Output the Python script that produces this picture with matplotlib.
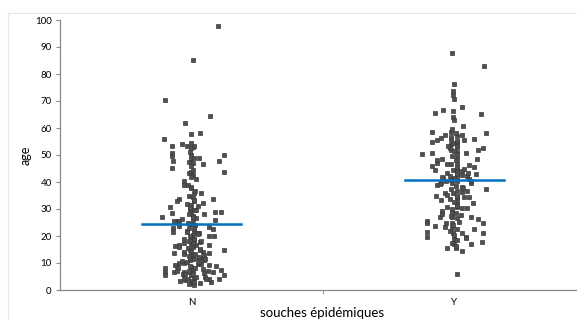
import matplotlib
matplotlib.use("Agg")
import matplotlib.pyplot as plt
import numpy as np

categories = ["N", "Y"]
x_label = "souches épidémiques"
y_label = "age"
y_ticks = list(range(0, 101, 10))
mean_values = [24.4, 40.8]

# jitter offsets (in category widths) and ages
n_offsets = [0.099, 0.004, -0.099, 0.072, -0.023, 0.0, 0.034, -0.106, -0.076, -0.038, -0.019, 0.0, 0.004,
             0.0, -0.076, -0.076, 0.122, 0.0, 0.0, 0.004, 0.0, 0.030, -0.072, 0.042, 0.103, -0.076, -0.011,
             0.0, 0.004, 0.0, 0.122, -0.027, -0.030, 0.0, 0.038, 0.008, 0.004, 0.008, -0.046, -0.057, 0.080,
             0.042, -0.080, 0.0, -0.004, 0.0, 0.004, -0.076, 0.046, 0.091, 0.114, -0.114, 0.091, -0.065,
             -0.053, -0.046, 0.004, -0.072, -0.072, -0.019, 0.068, 0.080, 0.008, 0.004, 0.0, 0.008, 0.030,
             0.084, -0.061, -0.049, -0.027, 0.0, 0.004, -0.004, 0.034, 0.068, 0.122, -0.065, -0.030, 0.042,
             0.065, 0.027, 0.049, 0.0, 0.004, -0.004, -0.046, -0.057, -0.027, 0.068, 0.095, -0.099, -0.099,
             -0.099, -0.068, -0.027, 0.0, 0.004, -0.004, 0.0, 0.008, 0.0, 0.004, 0.046, 0.080, 0.114, 0.122,
             0.106, 0.068, 0.034, -0.023, 0.011,
             # dense central column
             -0.008, 0.011, -0.015, 0.019, 0.004, -0.011, 0.015, -0.004, 0.023, -0.019, 0.008, -0.008,
             0.015, 0.000, -0.015, 0.019, 0.004, -0.011, 0.011, -0.004, 0.023, -0.019, 0.008, -0.008,
             0.015, 0.000, -0.015, 0.019, 0.004, -0.011, 0.011, -0.004, 0.023, -0.019, 0.008, -0.008,
             0.015, 0.000, -0.015, 0.019, 0.004, -0.011, 0.011, -0.004, 0.008,
             # extra spread near the bottom
             -0.042, 0.053, -0.034, 0.061, -0.053, 0.038, -0.038, 0.049, 0.027, -0.030, 0.034, -0.046,
             0.057, -0.023, 0.042, -0.061, 0.030, 0.046, -0.027, 0.065, -0.049, 0.023, -0.038, 0.053,
             0.034, -0.030, 0.076, -0.057, 0.038, 0.019]
n_ages = [97.8, 85, 70.4, 64.4, 61.8, 57.7, 58, 55.9, 53.3, 54, 53.3, 54.4, 53, 52.5, 50.8, 49.5, 50, 50,
          48.5, 47, 46, 49, 47.8, 46.7, 47.8, 45.3, 43.3, 43.7, 42.5, 42, 43.6, 40.4, 38.8, 37.8, 36, 36,
          34.5, 33, 33.7, 33, 33.7, 32.2, 30.7, 31.5, 30, 29, 27.5, 28.5, 28, 28.9, 28.9, 27, 25.9, 25.5,
          25.7, 25.5, 26, 23, 21.5, 22, 23.3, 22.6, 22, 20.5, 19.5, 18.5, 21, 20, 16.3, 16.7, 17.4, 17, 16,
          15, 17.8, 16.7, 15, 13.7, 14, 14, 13.7, 11.8, 11.8, 13, 12, 11, 10, 8.9, 10, 9.3, 8.9, 8.1, 6.7,
          5.6, 6.7, 6.7, 8.5, 7.5, 6.5, 5.5, 4.5, 3.5, 2.6, 6.3, 6.7, 7.4, 5.6, 4, 4, 2.6, 3.7, 1.9,
          2.2, 3, 4, 5, 6, 7, 8, 9, 9.5, 10.5, 11.5, 12.5, 13.5, 14.5, 15.5, 16.5, 17.5, 18, 19, 20,
          21, 21.5, 22.5, 23, 24, 24.5, 25, 26.5, 27, 28, 29.5, 30.5, 31, 32, 33.5, 35, 36.5, 38, 39, 41,
          44.5, 47.5, 49, 51, 53.5,
          3.2, 4.8, 5.8, 7.0, 8.2, 9.8, 10.8, 11.2, 12.2, 13.2, 14.8, 15.8, 3.9, 6.1, 7.8, 9.1, 10.3,
          12.8, 18.8, 19.9, 23.8, 20.6, 26.2, 11.4, 15.2, 4.6, 2.9, 7.2, 18.2, 29.8]

y_offsets = [-0.011, 0.114, 0.0, -0.004, -0.004, 0.0, 0.027, -0.076, -0.042, -0.004, -0.004, 0.0, 0.099,
             0.034, -0.084, 0.118, -0.038, -0.053, -0.065, -0.015, -0.015, -0.015, -0.015, 0.030, 0.038,
             0.076, -0.087, 0.008, 0.008, 0.008, 0.008, 0.008, 0.008, 0.008, 0.008, 0.008, 0.091, 0.110,
             -0.122, -0.084, 0.042, 0.087, -0.065, -0.046, -0.084, -0.076, 0.057, 0.076, 0.030, 0.080,
             -0.030, 0.030, -0.065, -0.053, 0.061, 0.118, 0.027, -0.072, -0.038, -0.027, 0.030, 0.038,
             0.057, 0.008, 0.008, 0.008, 0.008, 0.049, -0.046, -0.027, -0.057, 0.023, 0.061, -0.103,
             -0.103, -0.076, -0.034, 0.019, 0.091, 0.110, -0.008, -0.008, -0.008, -0.008, -0.004, 0.0,
             0.0, 0.076, -0.103, -0.103, 0.030, 0.042, 0.110, 0.103, 0.061, -0.027, 0.004, 0.027, 0.008,
             # dense central column
             -0.011, 0.004, -0.015, 0.011, -0.004, 0.008, -0.019, 0.000, 0.011, -0.008, 0.004, -0.015,
             0.011, -0.004, 0.008, -0.019, 0.000, 0.011, -0.008, 0.004, -0.015, 0.011, -0.004, 0.008,
             -0.019, 0.000, 0.011, -0.008, 0.004, -0.015, 0.011, -0.004, 0.008, -0.019, 0.000, 0.011,
             -0.008, 0.004, -0.015, 0.011,
             # spread around the middle
             -0.042, 0.046, -0.034, 0.053, -0.057, 0.038, -0.049, 0.061, -0.030, 0.034, -0.065, 0.072,
             -0.023, 0.027, -0.046, 0.049, -0.038, 0.042, 0.057, -0.053]
y_ages = [87.8, 83, 76.3, 73.7, 72.2, 70.7, 67.8, 65.5, 66.7, 66.3, 64, 63, 65.2, 60.7, 58.5, 58.1, 57.4,
          56.3, 55.5, 58.5, 56, 54, 52, 57.4, 55.5, 55.9, 54.8, 57, 55, 53, 51, 49, 47, 45, 43, 41, 51.8,
          52.6, 50.4, 50.7, 50.7, 48.5, 47, 48.5, 45.9, 44.4, 46.3, 45.6, 44, 43, 43.3, 42.6, 38.9, 39.6,
          39.6, 37.4, 38.1, 34.8, 35.9, 35.2, 36.3, 34.4, 34.4, 34.4, 33, 31.5, 30.7, 30.4, 29.3, 30.7,
          27, 27.8, 27, 25.5, 24.8, 23.7, 24.8, 25.2, 26.3, 24.8, 29, 27, 25, 23, 21, 19, 17, 22.6, 21.5,
          19.6, 21, 19.6, 21, 17.8, 17, 15.6, 15.6, 14.4, 5.9,
          59.5, 58, 56.8, 55.2, 54.5, 53.5, 52.5, 51.5, 50.2, 49.5, 48, 46.5, 45.5, 44.5, 43.8, 42.2,
          41.5, 40.2, 39.5, 38.5, 37.5, 36.8, 36, 35, 33.8, 32.5, 31, 30, 28.5, 27.5, 26.5, 24.2, 22.5,
          21.8, 20.2, 18.5, 17.5, 16.2, 40.8, 42.8,
          41.5, 42.2, 40.5, 43.2, 39.2, 44.8, 41.8, 40.2, 46.8, 37.8, 48.2, 32.2, 53.2, 30.2, 28.2,
          36.8, 23.2, 19.2, 41.2, 33.5]

W, H = 577, 320
fig = plt.figure(figsize=(5.77, 3.20), dpi=100)
fig.add_artist(plt.Line2D([8 / W, 8 / W, 1.0], [0.0, 1 - 13 / H, 1 - 13 / H],
                          transform=fig.transFigure, color="#e6e6e6", linewidth=0.8, zorder=-5))
ax = fig.add_axes([60 / W, 1 - 290 / H, 526 / W, 270 / H])
ax.set_facecolor("none")

for i, (offs, ages) in enumerate([(n_offsets, n_ages), (y_offsets, y_ages)]):
    xs = i + np.array(offs)
    ax.plot(xs, ages, linestyle="none", marker="s", markersize=3.5,
            markerfacecolor="#505050", markeredgecolor="#3a3a3a", markeredgewidth=0.5, zorder=2)
    ax.plot([i - 0.19, i + 0.19], [mean_values[i], mean_values[i]], color="#0070C0", linewidth=1.8,
            zorder=3)

ax.set_xlim(-0.5, 1.5)
ax.set_ylim(0, 100)
ax.set_yticks(y_ticks)
ax.set_yticklabels([str(t) for t in y_ticks], fontsize=7, family="Lato")
ax.set_xticks([0, 1])
ax.set_xticklabels(categories, fontsize=7, family="Lato")
ax.set_xticks([0.5], minor=True)
ax.tick_params(axis="x", which="major", length=0, pad=6)
ax.tick_params(axis="x", which="minor", length=3, color="#888888")
ax.tick_params(axis="y", length=3, color="#888888", pad=3)
for s in ["top", "right"]:
    ax.spines[s].set_visible(False)
for s in ["left", "bottom"]:
    ax.spines[s].set_color("#888888")
    ax.spines[s].set_linewidth(0.9)
ax.set_ylabel(y_label, fontsize=9, family="Lato")
ax.yaxis.set_label_coords((32 - 60) / 526, 0.5)
fig.text(322 / W, 1 - 313 / H, x_label, fontsize=9.5, family="Lato", ha="center", va="center")

fig.savefig("out.png", dpi=100)
